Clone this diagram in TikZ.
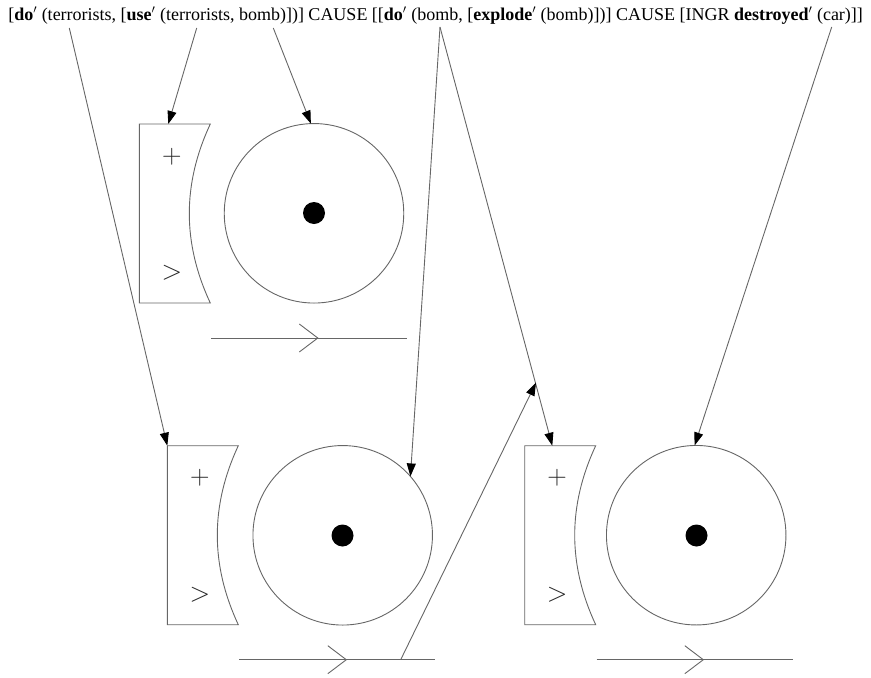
\documentclass[tikz,border=0pt]{standalone}
\usepackage{fontspec}
\setmainfont{Liberation Serif}
\newfontfamily\symfont{Latin Modern Roman}
\usetikzlibrary{arrows.meta}
\begin{document}
\begin{tikzpicture}[x=1pt,y=-1pt,line width=0.9pt,
  shapeline/.style={draw=black!60},
  link/.style={draw=black!60,-{Triangle[length=13pt,width=9pt,color=black]}},
  wheel/.style={circle,draw=black!60,minimum size=179.5pt,inner sep=0pt,outer sep=0pt},
  hub/.style={circle,fill=black,minimum size=22pt,inner sep=0pt},
  sign/.style={inner sep=0pt,text=black!85,font=\symfont\fontsize{27}{30}\selectfont}]
\useasboundingbox (0,0) rectangle (871,678);

% formula
\node[anchor=base west,inner sep=0pt,font=\fontsize{18}{21}\selectfont] (formula) at (8,20)
  {[\textbf{do}$'$ (terrorists, [\textbf{use}$'$ (terrorists, bomb)])] CAUSE [[\textbf{do}$'$ (bomb, [\textbf{explode}$'$ (bomb)])] CAUSE [INGR \textbf{destroyed}$'$ (car)]]};
\coordinate (s1) at (69.3,28);
\coordinate (s2) at (196.7,28);
\coordinate (s3) at (273.3,28);
\coordinate (s4) at (440,27);
\coordinate (s5) at (831.7,27);

% group 1
\begin{scope}[shift={(139.3,124)}]
  \draw[shapeline] (0,0) coordinate (box1) -- (71,0) .. controls (43,60) and (43,119) .. (71,179) -- (0,179) -- cycle;
  \node[sign] (plus1) at (32.5,32.5) {+};
  \node[sign] (gt1) at (32.5,149) {>};
  \coordinate (bt1) at (29,0);
  \coordinate (ls1) at (72,214);
  \coordinate (le1) at (268,214);
  \coordinate (tip1) at (178.5,214);
\end{scope}
\node[wheel] (c1) at (314,213.3) {};
\node[hub] (d1) at (314,213) {};
\draw[shapeline] (ls1) -- (le1);
\draw[shapeline] ([shift={(-18.5,-14)}]tip1) -- (tip1) -- ([shift={(-18.5,14)}]tip1);

% group 2
\begin{scope}[shift={(167.3,445.7)}]
  \draw[shapeline] (0,0) coordinate (box2) -- (71,0) .. controls (43,60) and (43,119) .. (71,179) -- (0,179) -- cycle;
  \node[sign] (plus2) at (32.5,32.5) {+};
  \node[sign] (gt2) at (32.5,149) {>};
  \coordinate (ls2) at (72,214);
  \coordinate (le2) at (268,214);
  \coordinate (tip2) at (179,214);
  \coordinate (mid2) at (233.4,214);
\end{scope}
\node[wheel] (c2) at (342.7,535.3) {};
\node[hub] (d2) at (342.5,535.5) {};
\draw[shapeline] (ls2) -- (le2);
\draw[shapeline] ([shift={(-18.5,-14)}]tip2) -- (tip2) -- ([shift={(-18.5,14)}]tip2);

% group 3
\begin{scope}[shift={(524.7,445.7)}]
  \draw[shapeline] (0,0) coordinate (box3) -- (71,0) .. controls (43,60) and (43,119) .. (71,179) -- (0,179) -- cycle;
  \node[sign] (plus3) at (32.5,32.5) {+};
  \node[sign] (gt3) at (32.5,149) {>};
  \coordinate (bt3) at (27.6,0);
  \coordinate (ls3) at (72,214);
  \coordinate (le3) at (268,214);
  \coordinate (tip3) at (178.6,214);
\end{scope}
\node[wheel] (c3) at (696.2,535.2) {};
\node[hub] (d3) at (696.5,535.5) {};
\draw[shapeline] (ls3) -- (le3);
\draw[shapeline] ([shift={(-18.5,-14)}]tip3) -- (tip3) -- ([shift={(-18.5,14)}]tip3);

% links
\coordinate (free) at (536,382.7);
\draw[link] (s1) -- (box2);
\draw[link] (s2) -- (bt1);
\draw[link] (s3) -- (c1.92.6);
\draw[link] (s4) -- (c2.41.6);
\draw[link] (s4) -- (bt3);
\draw[link] (s5) -- (c3.91.8);
\draw[link] (mid2) -- (free);
\end{tikzpicture}
\end{document}
